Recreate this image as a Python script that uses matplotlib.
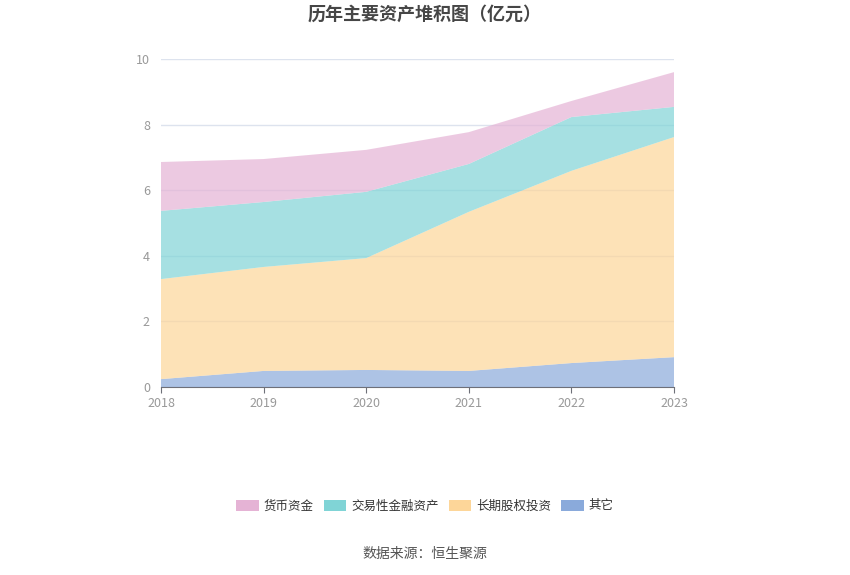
import matplotlib
matplotlib.use('Agg')
import matplotlib.pyplot as plt
from matplotlib.patches import Patch

plt.rcParams['font.family'] = ['Noto Sans CJK SC', 'DejaVu Sans']

years = ['2018', '2019', '2020', '2021', '2022', '2023']
other = [0.24, 0.49, 0.52, 0.49, 0.73, 0.91]
equity_inv = [3.05, 3.17, 3.41, 4.85, 5.86, 6.71]
trading_assets = [2.08, 1.98, 2.02, 1.46, 1.64, 0.92]
cash = [1.49, 1.31, 1.28, 0.97, 0.49, 1.06]

labels = ['货币资金', '交易性金融资产', '长期股权投资', '其它']
colors = ['#e5b3d5', '#80d4d6', '#fdd699', '#8aaadb']

fig = plt.figure(figsize=(8.5, 5.75), dpi=100)
ax = fig.add_axes([161 / 850, 1 - 387 / 575, (674 - 161) / 850, (387 - 59) / 575])

x = list(range(len(years)))
# stacked from bottom: 其它, 长期股权投资, 交易性金融资产, 货币资金
ax.stackplot(x, other, equity_inv, trading_assets, cash,
             colors=[colors[3], colors[2], colors[1], colors[0]],
             alpha=0.7, linewidth=0, zorder=2)

ax.set_xlim(0, len(years) - 1)
ax.set_ylim(0, 10)
ax.set_xticks(x)
ax.set_xticklabels(years)
ax.set_yticks([0, 2, 4, 6, 8, 10])
ax.grid(axis='y', color='#dde3ee', linewidth=1, zorder=1)
ax.set_axisbelow(True)
for s in ['top', 'right', 'left']:
    ax.spines[s].set_visible(False)
ax.spines['bottom'].set_color('#6e7079')
ax.spines['bottom'].set_zorder(3)
ax.tick_params(axis='y', length=0, colors='#999999', labelsize=9, pad=8)
ax.tick_params(axis='x', length=4, color='#6e7079', colors='#999999', labelsize=9)

fig.text(0.5, 1 - 14 / 575, '历年主要资产堆积图（亿元）', ha='center', va='center',
         fontsize=13, fontweight='bold', color='#464646')

handles = [Patch(facecolor=c, edgecolor='none') for c in colors]
fig.legend(handles, labels, loc='center', bbox_to_anchor=(0.5, 1 - 506 / 575),
           ncol=4, frameon=False, fontsize=9, handlelength=1.8, handleheight=1.0,
           columnspacing=0.8, handletextpad=0.4, labelcolor='#333333')

fig.text(0.5, 1 - 554 / 575, '数据来源：恒生聚源', ha='center', va='center',
         fontsize=10, color='#555555')

fig.savefig('out.png', dpi=100)
